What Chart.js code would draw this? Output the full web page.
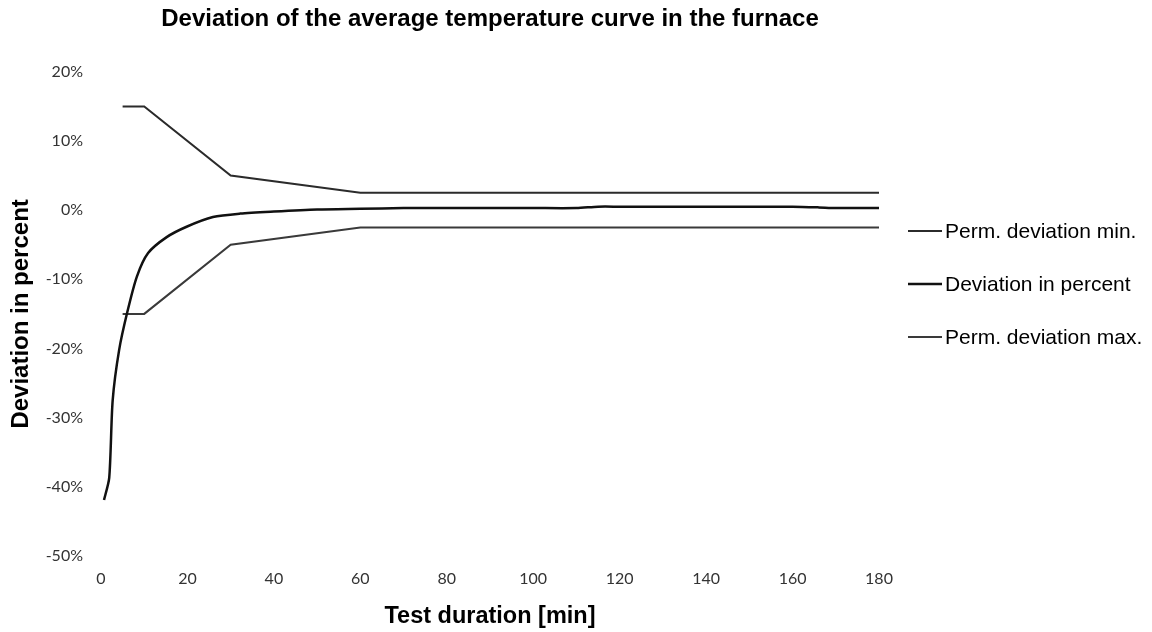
<!DOCTYPE html>
<html>
<head>
<meta charset="utf-8">
<script src="https://cdn.jsdelivr.net/npm/chart.js@4"></script>
<style>
  html, body { margin: 0; padding: 0; background: #fff; }
  #wrap { width: 1152px; height: 632px; }
</style>
</head>
<body>
<div id="wrap"><canvas id="myChart" width="1152" height="632"></canvas></div>
<script>
// Datos (minutos / porcentaje)
const tolTime = [5, 10, 30, 60, 180];
const tolMin = [15, 15, 5, 2.5, 2.5];
const tolMax = [-15, -15, -5, -2.5, -2.5];

const devTime = [0.7, 1.9, 2.7, 4.2, 6.1, 8.3, 10.9, 15.2, 19.8, 25.9, 32.2, 40, 50, 60, 70, 80, 90, 100, 110, 115, 120, 130, 140, 150, 160, 166, 170, 180];
const devValue = [-41.9, -38.7, -27.5, -20.2, -14.7, -9.6, -6.2, -3.9, -2.4, -1.0, -0.5, -0.2, 0.1, 0.2, 0.3, 0.3, 0.3, 0.3, 0.3, 0.5, 0.5, 0.5, 0.5, 0.5, 0.5, 0.4, 0.3, 0.3];

const xTicks = [0, 20, 40, 60, 80, 100, 120, 140, 160, 180];
const yTicks = [20, 10, 0, -10, -20, -30, -40, -50];

const labels = ['Perm. deviation min.', 'Deviation in percent', 'Perm. deviation max.'];

const toPoints = (xs, ys) => xs.map((x, i) => ({ x: x, y: ys[i] }));

// Leyenda a la derecha, dibujada con los estilos de cada dataset
const sideLegend = {
    id: 'sideLegend',
    afterDraw(chart, args, opts) {
        const c = chart.ctx;
        c.save();
        c.font = opts.font;
        c.textBaseline = 'middle';
        c.fillStyle = '#000';
        chart.data.datasets.forEach((ds, i) => {
            const y = opts.top + i * opts.gap;
            c.strokeStyle = ds.borderColor;
            c.lineWidth = ds.borderWidth;
            c.beginPath();
            c.moveTo(opts.x, y);
            c.lineTo(opts.x + opts.lineLen, y);
            c.stroke();
            c.fillText(ds.label, opts.x + opts.lineLen + 3, y + 1);
        });
        c.restore();
    }
};

const ctx = document.getElementById('myChart').getContext('2d');

const chart = new Chart(ctx, {
    type: 'line',
    data: {
        datasets: [{
            label: labels[0],
            data: toPoints(tolTime, tolMin),
            borderColor: '#2b2b2b',
            borderWidth: 2,
            pointRadius: 0,
            tension: 0
        }, {
            label: labels[1],
            data: toPoints(devTime, devValue),
            borderColor: '#111',
            borderWidth: 2.5,
            pointRadius: 0,
            tension: 0.25
        }, {
            label: labels[2],
            data: toPoints(tolTime, tolMax),
            borderColor: '#3a3a3a',
            borderWidth: 2,
            pointRadius: 0,
            tension: 0
        }]
    },
    options: {
        responsive: false,
        animation: false,
        events: [],
        layout: {
            padding: { left: 0, right: 273, top: 0, bottom: 0 }
        },
        scales: {
            x: {
                type: 'linear',
                min: 0,
                max: 180,
                afterBuildTicks: s => { s.ticks = xTicks.map(v => ({ value: v })); },
                afterFit: s => { s.height = 76; },
                grid: { display: false },
                border: { display: false },
                ticks: {
                    color: '#333',
                    padding: 5,
                    maxRotation: 0,
                    font: { family: 'Lato', size: 16 }
                },
                title: {
                    display: true,
                    text: 'Test duration [min]',
                    color: '#000',
                    padding: { top: 2, bottom: 1 },
                    font: { family: 'Liberation Sans', size: 23.5, weight: 'bold' }
                }
            },
            y: {
                min: -50,
                max: 20,
                afterBuildTicks: s => { s.ticks = yTicks.map(v => ({ value: v })); },
                afterFit: s => { s.width = 101; },
                grid: { display: false },
                border: { display: false },
                ticks: {
                    color: '#333',
                    padding: 10,
                    callback: v => v + '%',
                    font: { family: 'Lato', size: 16 }
                },
                title: {
                    display: true,
                    text: 'Deviation in percent',
                    color: '#000',
                    padding: { top: 7, bottom: 0 },
                    font: { family: 'Liberation Sans', size: 24, weight: 'bold' }
                }
            }
        },
        plugins: {
            legend: { display: false },
            tooltip: { enabled: false },
            title: {
                display: true,
                fullSize: false,
                text: 'Deviation of the average temperature curve in the furnace',
                color: '#000',
                padding: { top: 5, bottom: 38 },
                font: { family: 'Liberation Sans', size: 24, weight: 'bold' }
            },
            sideLegend: {
                x: 908,
                top: 231,
                gap: 53,
                lineLen: 34,
                font: '21px "Liberation Sans", Arial, sans-serif'
            }
        }
    },
    plugins: [sideLegend]
});
</script>
</body>
</html>
